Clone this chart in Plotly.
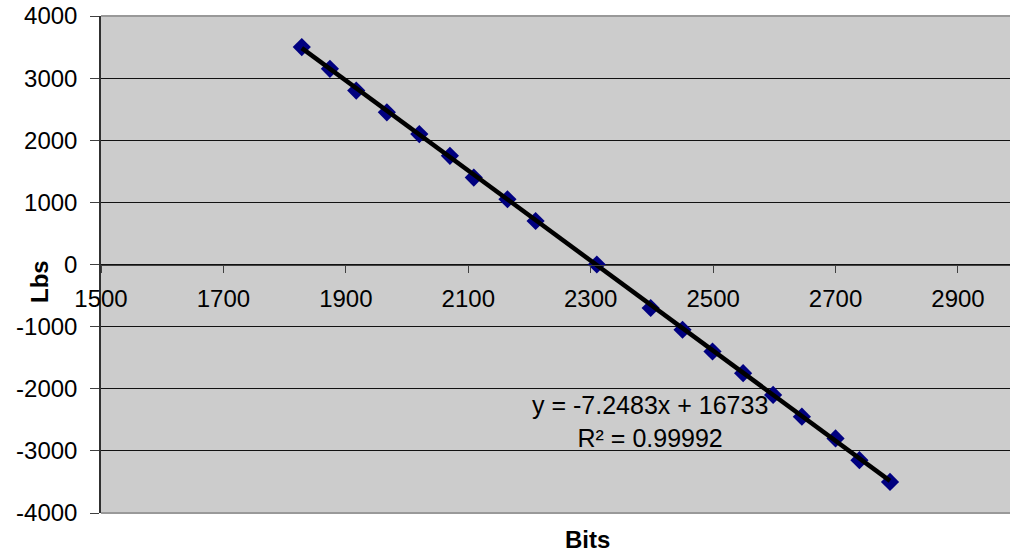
import plotly.graph_objects as go

# Data
bits = [1828, 1874, 1917, 1967, 2020, 2070, 2109, 2164, 2210, 2310,
        2398, 2450, 2499, 2549, 2598, 2645, 2700, 2739, 2789]
lbs = [3500, 3150, 2800, 2450, 2100, 1750, 1400, 1050, 700, 0,
       -700, -1050, -1400, -1750, -2100, -2450, -2800, -3150, -3500]

slope = -7.2483
intercept = 16733
r_squared = 0.99992

x_ticks = [1500, 1700, 1900, 2100, 2300, 2500, 2700, 2900]
y_ticks = [-4000, -3000, -2000, -1000, 0, 1000, 2000, 3000, 4000]

FONT = "Liberation Sans, Arial, sans-serif"

trend_x = [min(bits), max(bits)]
trend_y = [slope * v + intercept for v in trend_x]

fig = go.Figure()
fig.add_trace(go.Scatter(
    x=bits, y=lbs, mode="markers",
    marker=dict(symbol="diamond", size=14, color="#000080",
                line=dict(width=0)),
    showlegend=False, hoverinfo="x+y"))
fig.add_trace(go.Scatter(
    x=trend_x, y=trend_y, mode="lines",
    line=dict(color="black", width=4.5),
    showlegend=False, hoverinfo="skip"))

fig.update_layout(
    width=1010, height=552,
    margin=dict(l=101, r=0, t=16, b=39),
    paper_bgcolor="white",
    plot_bgcolor="#CCCCCC",
    font=dict(family=FONT, size=24, color="black"),
    xaxis=dict(
        range=[1500, 2985],
        tickvals=x_ticks,
        ticktext=[str(v) for v in x_ticks],
        showgrid=False, zeroline=False,
        anchor="free", position=0.5,
        showline=True, linecolor="#404040", linewidth=1,
        ticks="outside", ticklen=7, tickcolor="#404040", tickwidth=1,
        ticklabelstandoff=6,
        tickfont=dict(family=FONT, size=24, color="black"),
    ),
    yaxis=dict(
        range=[-4000, 4000],
        tickvals=y_ticks,
        ticktext=[str(v) for v in y_ticks],
        showgrid=True, gridcolor="#111111", gridwidth=1,
        zeroline=False,
        showline=True, linecolor="#303030", linewidth=1.5,
        ticks="outside", ticklen=9, tickcolor="#404040", tickwidth=1,
        ticklabelstandoff=8,
        tickfont=dict(family=FONT, size=24, color="black"),
    ),
    shapes=[
        dict(type="line", xref="paper", yref="paper", x0=0, x1=1, y0=1, y1=1,
             line=dict(color="#999999", width=2)),
        dict(type="line", xref="paper", yref="paper", x0=0, x1=1, y0=0, y1=0,
             line=dict(color="#999999", width=2)),
    ],
    annotations=[
        dict(text=f"y = {slope}x + {intercept}<br>R² = {r_squared}",
             x=2397, y=-2530, xref="x", yref="y", showarrow=False,
             xanchor="center", yanchor="middle",
             align="center", font=dict(family=FONT, size=25, color="black")),
        dict(text="<b>Bits</b>", xref="paper", yref="paper",
             x=(587 - 101) / 909, y=-(539 - 513) / 497, showarrow=False,
             xanchor="center", yanchor="middle",
             font=dict(family=FONT, size=24, color="black")),
        dict(text="<b>Lbs</b>", xref="paper", yref="paper",
             x=(39 - 101) / 909, y=(513 - 282) / 497, showarrow=False,
             xanchor="center", yanchor="middle", textangle=-90,
             font=dict(family=FONT, size=24, color="black")),
    ],
)

fig.write_html(
    "out.html",
    config={"displayModeBar": False},
    post_script="document.body.style.margin='0';"
                "document.body.style.overflow='hidden';",
)
